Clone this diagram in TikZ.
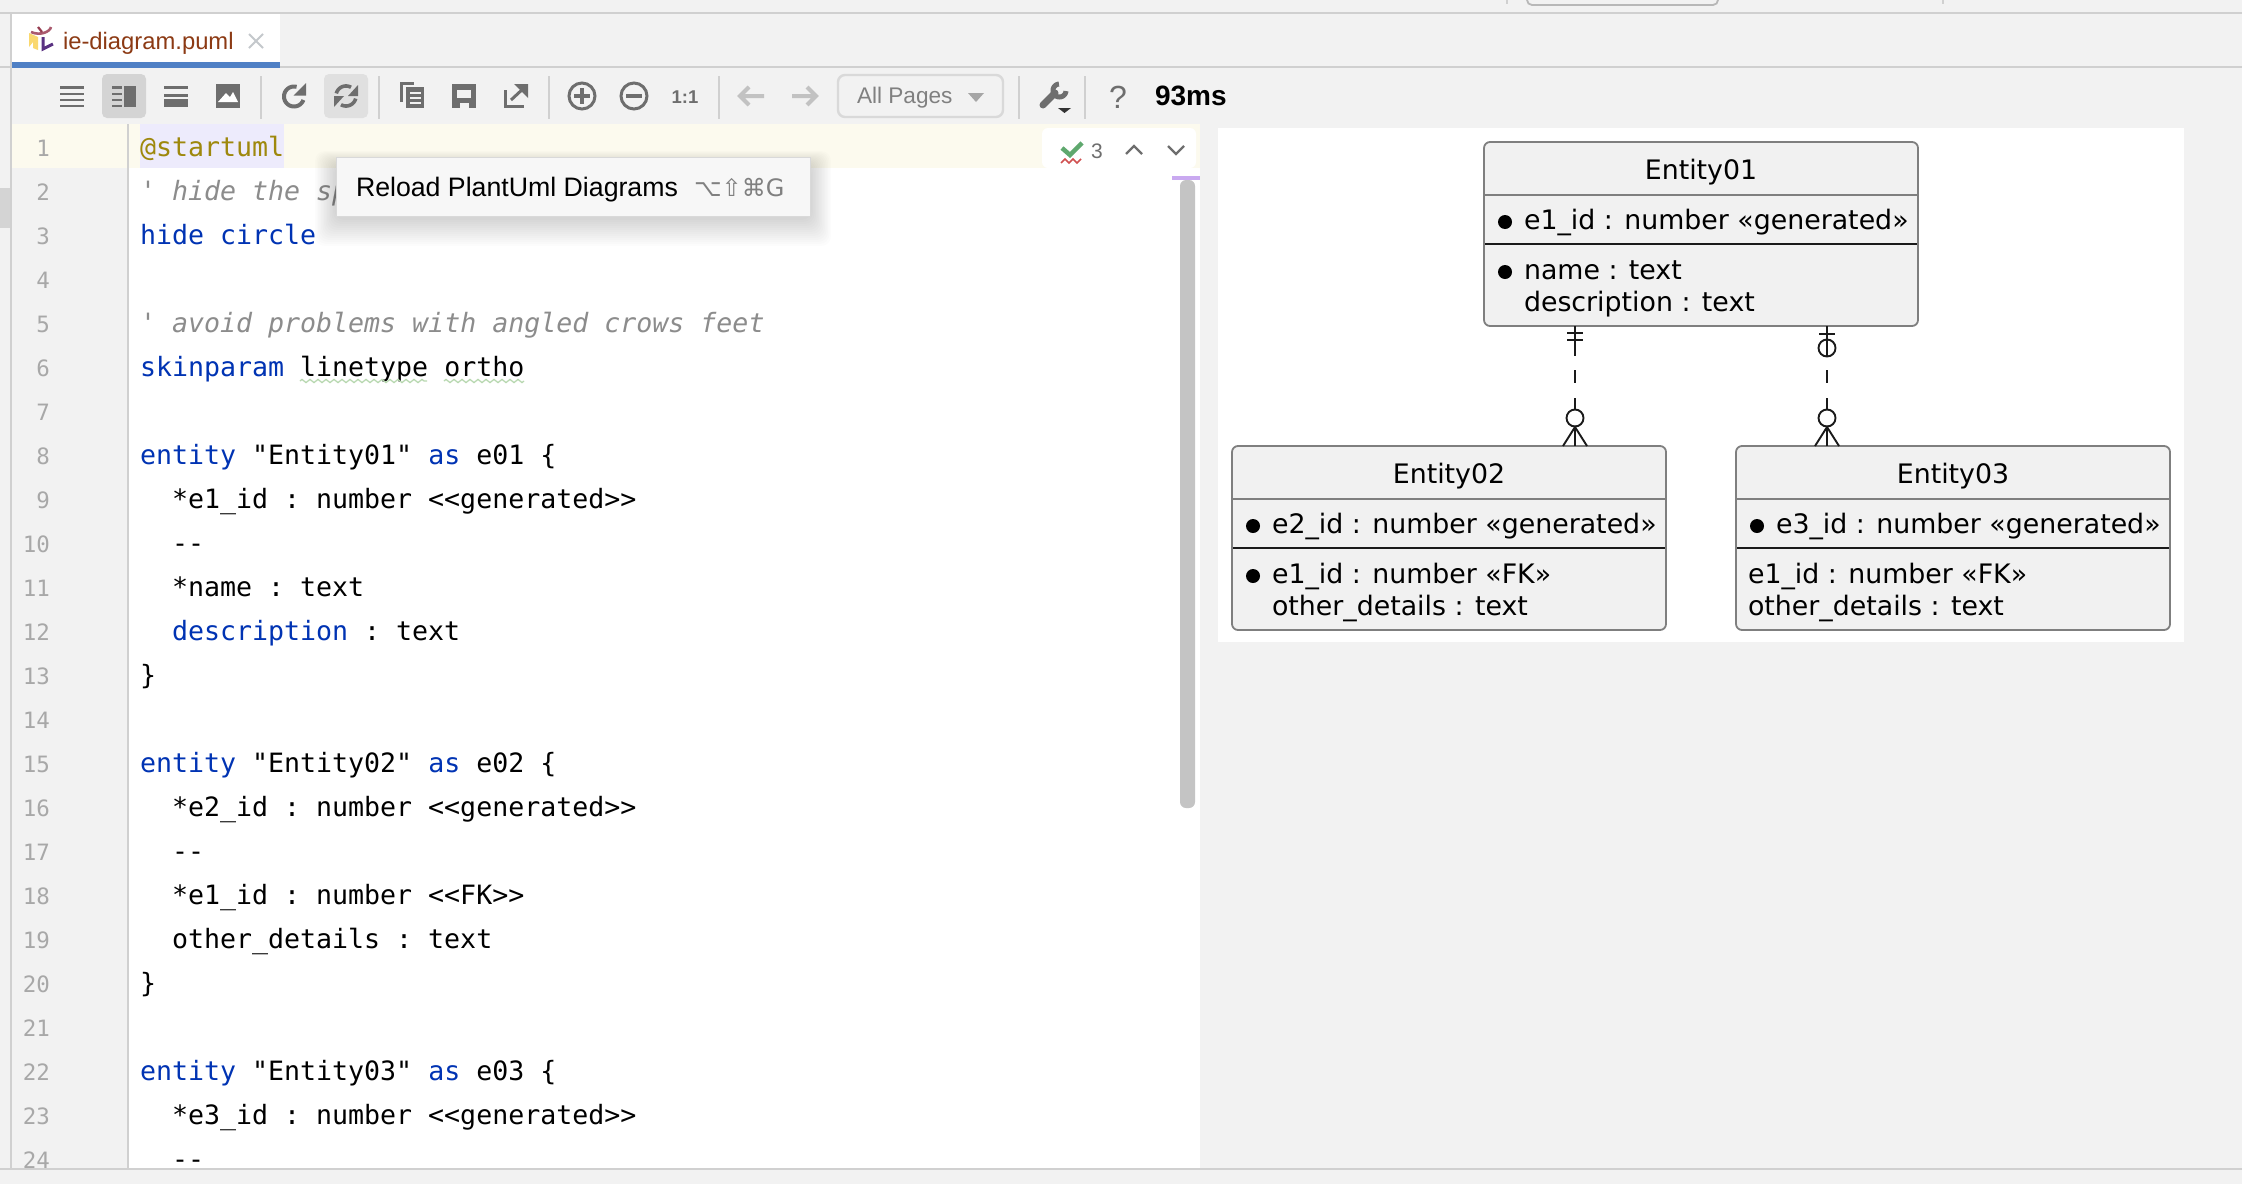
\documentclass[tikz,border=0pt]{standalone}
\usepackage{fontspec}
\setmainfont{Liberation Sans}
\setmonofont{DejaVu Sans Mono}
\newfontfamily\entfont{DejaVu Sans}
\newfontfamily\symfont{DejaVu Sans}
\usetikzlibrary{calc,decorations.pathmorphing}
\definecolor{bgui}{HTML}{F2F2F2}
\definecolor{linegray}{HTML}{D0D0D0}
\definecolor{icon}{HTML}{6E6E6E}
\definecolor{icondis}{HTML}{C2C2C2}
\definecolor{kw}{HTML}{0033B3}
\definecolor{cmt}{HTML}{8C8C8C}
\definecolor{ann}{HTML}{9E880D}
\definecolor{lnum}{HTML}{A8A8A8}
\definecolor{entfill}{HTML}{F1F1F1}
\definecolor{entline}{HTML}{7F7F7F}
\definecolor{ink}{HTML}{1A1A1A}
\newcommand{\codeln}[3]{\node[codetext] (code#1) at (#2,{156+44*(#1-1)}) {#3};}
\newcommand{\numln}[1]{\node[numtext] (num#1) at (50,{156+44*(#1-1)}) {#1};}
\newcommand{\kwd}[1]{\textcolor{kw}{#1}}
\newcommand{\arcp}[5]{plot[domain=#4:#5,samples=40,smooth] ({#1+#3*cos(\x)},{#2+#3*sin(\x)})}
\tikzset{
  txt/.style={inner sep=0pt,outer sep=0pt,anchor=base west},
  codetext/.style={txt,font=\ttfamily\fontsize{26.6}{30}\selectfont,text=black},
  numtext/.style={inner sep=0pt,outer sep=0pt,anchor=base east,font=\ttfamily\fontsize{22.5}{26}\selectfont,text=lnum},
  enttext/.style={txt,font=\entfont\fontsize{26.8}{30}\selectfont,text=black},
  enttitle/.style={inner sep=0pt,outer sep=0pt,anchor=base,font=\entfont\fontsize{26.8}{30}\selectfont,text=black},
  entbox/.style={draw=entline,fill=entfill,line width=1.8pt,rounded corners=6pt,anchor=north west,minimum width=434pt,minimum height=184pt,inner sep=0pt,outer sep=0pt},
  graysep/.style={draw=entline,line width=1.8pt},
  blacksep/.style={draw=ink,line width=2.4pt},
  crow/.style={draw=ink,line width=1.9pt},
  sep/.style={draw=linegray,line width=2pt},
  iconline/.style={draw=icon,line width=3pt},
  ibar/.style={fill=icon},
}
\begin{document}
\begin{tikzpicture}[x=1pt,y=-1pt]
\useasboundingbox (0,0) rectangle (2242,1184);
\fill[bgui] (0,0) rectangle (2242,1184);
% top remnants
\draw[draw=linegray,line width=1.5pt] (1507,0) -- (1507,4);
\draw[draw=linegray,line width=1.5pt] (1943,0) -- (1943,4);
\draw[draw=black!28,line width=1.8pt,rounded corners=5pt] (1527,-6) -- (1527,5) -- (1718,5) -- (1718,-6);
\draw[draw=linegray,line width=2.4pt] (0,13) -- (2242,13);
\draw[draw=linegray,line width=2.4pt] (0,67) -- (2242,67);
% left strip
\fill[black!17] (0,188) rectangle (11,228);
% tab
\fill[white] (12,14) rectangle (280,62);
\fill[color={rgb,255:red,79;green,128;blue,197}] (12,62) rectangle (280,68);
\node[txt,font=\fontsize{23.8}{26}\selectfont,text={rgb,255:red,140;green,58;blue,20}] (tabtitle) at (63,49) {ie-diagram.puml};
\draw[draw={rgb,255:red,196;green,200;blue,204},line width=1.8pt] (249,34) -- (263,48) (263,34) -- (249,48);
% UML file icon
\fill[color={rgb,255:red,250;green,216;blue,110}] (29,33) -- (38,37) -- (38,50) -- (33,48) -- (33,42) -- (29,47) -- cycle;
\draw[draw={rgb,255:red,170;green,90;blue,110},line width=2.6pt] (31,32) .. controls (40,36) and (50,32) .. (51,27);
\draw[draw={rgb,255:red,150;green,60;blue,80},line width=2.2pt] (38,27) -- (42,32);
\draw[draw={rgb,255:red,90;green,50;blue,130},line width=3pt] (43,37) -- (43,49) -- (53,44);
% separators
\foreach \sx in {261,379,549,719,1019,1085}
  \draw[sep] (\sx,76) -- (\sx,119);
\fill[black!17,rounded corners=5pt] (102,74) rectangle (146,118);
\fill[black!12,rounded corners=5pt] (324,74) rectangle (368,118);
% icon 1: four lines
\foreach \yy in {86,92.5,98.5,104.5}
  \fill[ibar] (60,\yy) rectangle (84,{\yy+2.6});
% icon 2: split
\foreach \yy in {86,92.5,98.5,104.5}
  \fill[ibar] (112,\yy) rectangle (122,{\yy+2.6});
\fill[ibar] (124,86) rectangle (136,107);
% icon 3
\fill[ibar] (164,86) rectangle (188,88.7);
\fill[ibar] (164,94) rectangle (188,96.7);
\fill[ibar] (164,99.3) rectangle (188,107);
% icon 4: image
\fill[ibar] (216,84) rectangle (240,108);
\fill[white] (218,102) -- (226,93) -- (230,97) -- (233,92) -- (238,102) -- cycle;
% reload
\draw[iconline,line width=4pt] \arcp{294}{96.5}{10}{20}{285};
\fill[icon] (306,83) -- (306,95.5) -- (293.5,95.5) -- cycle;
% sync
\draw[iconline,line width=3.6pt] \arcp{346}{96}{10}{195}{300};
\fill[icon] (358,85) -- (358,96) -- (348,96) -- cycle;
\draw[iconline,line width=3.6pt] \arcp{346}{96}{10}{15}{120};
\fill[icon] (334,107) -- (334,96) -- (344,96) -- cycle;
% copy
\fill[ibar] (400,82) rectangle (414,84.5);
\fill[ibar] (400,82) rectangle (403,102);
\fill[ibar] (406,87) rectangle (424,108);
\foreach \yy in {92,97,102}
  \fill[bgui] (410,\yy) rectangle (421,{\yy+2});
% save
\fill[ibar] (452,84) rectangle (476,108);
\fill[bgui] (457,90) rectangle (471,98);
\fill[bgui] (460,103) rectangle (469,108);
% export
\draw[iconline] (505.5,90) -- (505.5,106.5) -- (524,106.5);
\draw[iconline] (511,100) -- (525,87);
\fill[icon] (514,84) -- (528,84) -- (528,98) -- cycle;
% zoom in / out / 1:1
\draw[iconline] (582,96) circle (13pt);
\draw[iconline,line width=4pt] (574,96) -- (590,96) (582,88) -- (582,104);
\draw[iconline] (634,96) circle (13pt);
\draw[iconline,line width=4pt] (626,96) -- (642,96);
\node[inner sep=0pt,outer sep=0pt,anchor=base,font=\bfseries\fontsize{18.5}{22}\selectfont,text=icon] (oneone) at (685,103) {1:1};
% nav arrows
\draw[draw=icondis,line width=4pt] (764,96) -- (740,96) (749,87) -- (740,96) -- (749,105);
\draw[draw=icondis,line width=4pt] (792,96) -- (816,96) (807,87) -- (816,96) -- (807,105);
% combo
\draw[draw=black!15,line width=2.4pt,rounded corners=7pt] (838,75) rectangle (1003,117);
\node[txt,font=\fontsize{22.6}{26}\selectfont,text=black!50] (allpages) at (857,103) {All Pages};
\fill[black!35] (968,93) -- (984,93) -- (976,102) -- cycle;
% wrench
\draw[draw=icon,line width=7pt,line cap=round] (1043,105) -- (1055,93);
\draw[draw=icon,line width=5pt] \arcp{1059.5}{90.5}{6.5}{5}{265};
\fill[black!80] (1058,108) -- (1071,108) -- (1064.5,113) -- cycle;
\node[inner sep=0pt,outer sep=0pt,anchor=base,font=\fontsize{32}{34}\selectfont,text=icon] (help) at (1118,108) {?};
\node[txt,font=\bfseries\fontsize{28}{30}\selectfont,text=black] (ms) at (1155,105) {93ms};
% editor
\fill[white] (12,124) rectangle (1200,1168);
\fill[bgui] (12,168) rectangle (128,1168);
\fill[color={rgb,255:red,252;green,250;blue,238}] (12,124) rectangle (1200,168);
\fill[color={rgb,255:red,237;green,235;blue,252}] (140,124) rectangle (284,168);
\draw[draw=linegray,line width=2pt] (11,14) -- (11,1168);
\draw[draw=linegray,line width=1.5pt] (128,124) -- (128,1168);
% error widget
\fill[white,rounded corners=6pt] (1042,168) -- (1042,128) -- (1196,128) -- (1196,168) -- cycle;
\draw[draw={rgb,255:red,95;green,168;blue,110},line width=4.5pt] (1062,148) -- (1070,155) -- (1082,143);
\draw[draw={rgb,255:red,208;green,80;blue,80},line width=1.6pt] (1061,163) -- (1065,159) -- (1069,163) -- (1073,159) -- (1077,163) -- (1081,159);
\node[txt,font=\fontsize{21}{24}\selectfont,text=icon] (errcount) at (1091,158) {3};
\draw[iconline,line width=2.4pt] (1126,154) -- (1134,146) -- (1142,154);
\draw[iconline,line width=2.4pt] (1168,146) -- (1176,154) -- (1184,146);
% scrollbar
\fill[color={rgb,255:red,201;green,169;blue,240}] (1172,176) rectangle (1200,180);
\fill[black!23,rounded corners=6pt] (1180,180) rectangle (1195,808);
% line numbers
\foreach \n in {1,...,24} {\numln{\n}}
% code
\codeln{1}{140}{\textcolor{ann}{@startuml}}
\codeln{2}{140}{\textcolor{cmt}{\itshape ' hide the sp}}
\codeln{3}{140}{\kwd{hide circle}}
\codeln{5}{140}{\textcolor{cmt}{\itshape ' avoid problems with angled crows feet}}
\codeln{6}{140}{\kwd{skinparam} linetype ortho}
\codeln{8}{140}{\kwd{entity} "Entity01" \kwd{as} e01 \{}
\codeln{9}{172}{*e1\_id : number <{}<generated>{}>}
\codeln{10}{172}{-{}-}
\codeln{11}{172}{*name : text}
\codeln{12}{172}{\kwd{description} : text}
\codeln{13}{140}{\}}
\codeln{15}{140}{\kwd{entity} "Entity02" \kwd{as} e02 \{}
\codeln{16}{172}{*e2\_id : number <{}<generated>{}>}
\codeln{17}{172}{-{}-}
\codeln{18}{172}{*e1\_id : number <{}<FK>{}>}
\codeln{19}{172}{other\_details : text}
\codeln{20}{140}{\}}
\codeln{22}{140}{\kwd{entity} "Entity03" \kwd{as} e03 \{}
\codeln{23}{172}{*e3\_id : number <{}<generated>{}>}
\codeln{24}{172}{-{}-}
% squiggles
\draw[draw={rgb,255:red,184;green,216;blue,176},line width=1.3pt,decorate,decoration={zigzag,segment length=8pt,amplitude=1.6pt}] (300,381) -- (427,381);
\draw[draw={rgb,255:red,184;green,216;blue,176},line width=1.3pt,decorate,decoration={zigzag,segment length=8pt,amplitude=1.6pt}] (444,381) -- (524,381);
% tooltip
\foreach \k in {1,...,14}
  \fill[black,opacity=0.012,rounded corners=10pt] ({336-1.5*\k},{157+8-\k}) rectangle ({810+1.5*\k},{216+2+2*\k});
\fill[color={rgb,255:red,247;green,247;blue,247}] (336,157) rectangle (810,216);
\draw[draw=black!15,line width=1pt] (336,157) rectangle (810,216);
\node[txt,font=\fontsize{26.7}{30}\selectfont,text=black] (tip) at (356,196) {Reload PlantUml Diagrams};
\node[txt,font=\symfont\fontsize{24}{26}\selectfont,text=black!50] (tipkey) at (694,196) {⌥⇧⌘G};
% bottom border
\fill[linegray] (0,1167.5) rectangle (2242,1170);
% diagram panel
\fill[white] (1218,128) rectangle (2184,642);
\node[entbox] (e01) at (1484,142) {};
\node[entbox] (e02) at (1232,446) {};
\node[entbox] (e03) at (1736,446) {};
% compartments
\foreach \e in {e01,e02,e03} {
  \draw[graysep] ($(\e.north west)+(1,53)$) -- ($(\e.north east)+(-1,53)$);
  \draw[blacksep] ($(\e.north west)+(1,102)$) -- ($(\e.north east)+(-1,102)$);
}
% Entity01
\node[enttitle] (t1) at ($(e01.north)+(0,37)$) {Entity01};
\fill[black] ($(e01.north west)+(21,80)$) circle (7pt);
\node[enttext] (t1a) at ($(e01.north west)+(40,87)$) {e1\_id : number «generated»};
\fill[black] ($(e01.north west)+(21,130)$) circle (7pt);
\node[enttext] (t1b) at ($(e01.north west)+(40,137)$) {name : text};
\node[enttext] (t1c) at ($(e01.north west)+(40,169)$) {description : text};
% Entity02
\node[enttitle] (t2) at ($(e02.north)+(0,37)$) {Entity02};
\fill[black] ($(e02.north west)+(21,80)$) circle (7pt);
\node[enttext] (t2a) at ($(e02.north west)+(40,87)$) {e2\_id : number «generated»};
\fill[black] ($(e02.north west)+(21,130)$) circle (7pt);
\node[enttext] (t2b) at ($(e02.north west)+(40,137)$) {e1\_id : number «FK»};
\node[enttext] (t2c) at ($(e02.north west)+(40,169)$) {other\_details : text};
% Entity03
\node[enttitle] (t3) at ($(e03.north)+(0,37)$) {Entity03};
\fill[black] ($(e03.north west)+(21,80)$) circle (7pt);
\node[enttext] (t3a) at ($(e03.north west)+(40,87)$) {e3\_id : number «generated»};
\node[enttext] (t3b) at ($(e03.north west)+(12,137)$) {e1\_id : number «FK»};
\node[enttext] (t3c) at ($(e03.north west)+(12,169)$) {other\_details : text};
% connectors
\coordinate (s1) at ($(e01.south west)+(91,0)$);
\coordinate (d1) at ($(e02.north west)+(343,0)$);
\coordinate (s2) at ($(e01.south west)+(343,0)$);
\coordinate (d2) at ($(e03.north west)+(91,0)$);
\draw[crow,dash pattern=on 30pt off 14pt on 13pt off 15pt on 60pt] (s1) -- (d1);
\draw[crow,dash pattern=on 30pt off 14pt on 13pt off 15pt on 60pt] (s2) -- (d2);
% exactly-one end
\draw[crow] ($(s1)+(-8,7)$) -- ($(s1)+(8,7)$) ($(s1)+(-8,14)$) -- ($(s1)+(8,14)$);
% zero-or-one end
\draw[crow] ($(s2)+(-8,8)$) -- ($(s2)+(8,8)$);
\draw[crow] ($(s2)+(0,22)$) circle (8.5pt);
% zero-or-many ends
\foreach \d in {d1,d2} {
  \draw[crow,fill=white] ($(\d)+(0,-28)$) circle (8.5pt);
  \draw[crow] ($(\d)+(-12,0)$) -- ($(\d)+(0,-19)$) -- ($(\d)+(12,0)$);
}
\end{tikzpicture}
\end{document}
